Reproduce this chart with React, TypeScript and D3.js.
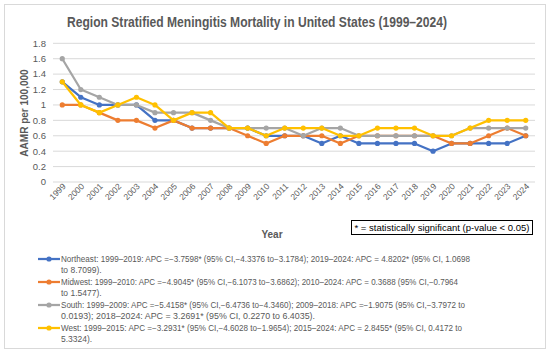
import React from 'react';
import * as d3 from 'd3';

const years = d3.range(1999, 2025).map(String);
const northeast = [1.3, 1.1, 1.0, 1.0, 1.0, 0.8, 0.8, 0.7, 0.7, 0.7, 0.7, 0.6, 0.6, 0.6, 0.5, 0.6, 0.5, 0.5, 0.5, 0.5, 0.4, 0.5, 0.5, 0.5, 0.5, 0.6];
const midwest = [1.0, 1.0, 0.9, 0.8, 0.8, 0.7, 0.8, 0.7, 0.7, 0.7, 0.6, 0.5, 0.6, 0.6, 0.6, 0.5, 0.6, 0.6, 0.6, 0.6, 0.6, 0.5, 0.5, 0.6, 0.7, 0.6];
const south = [1.6, 1.2, 1.1, 1.0, 1.0, 0.9, 0.9, 0.9, 0.8, 0.7, 0.7, 0.7, 0.7, 0.6, 0.7, 0.7, 0.6, 0.6, 0.6, 0.6, 0.6, 0.6, 0.7, 0.7, 0.7, 0.7];
const west = [1.3, 1.0, 0.9, 1.0, 1.1, 1.0, 0.8, 0.9, 0.9, 0.7, 0.7, 0.6, 0.7, 0.7, 0.7, 0.6, 0.6, 0.7, 0.7, 0.7, 0.6, 0.6, 0.7, 0.8, 0.8, 0.8];
const yTicks = [0, 0.2, 0.4, 0.6, 0.8, 1, 1.2, 1.4, 1.6, 1.8];

const seriesNames = ['Northeast', 'Midwest', 'South', 'West'];
const seriesValues = [northeast, midwest, south, west];
const colors = ['#4472C4', '#ED7D31', '#A5A5A5', '#FFC000'];

// legend text, wrapped the way the picture wraps it
const legendLines = [
  ['Northeast: 1999–2019: APC =−3.7598* (95% CI,−4.3376 to−3.1784); 2019–2024: APC = 4.8202* (95% CI, 1.0698', 'to 8.7099).'],
  ['Midwest: 1999–2010: APC =−4.9045* (95% CI,−6.1073 to−3.6862); 2010–2024: APC = 0.3688 (95% CI,−0.7964', 'to 1.5477).'],
  ['South: 1999–2009: APC =−5.4158* (95% CI,−6.4736 to−4.3460); 2009–2018: APC =−1.9075 (95% CI,−3.7972 to', '0.0193); 2018–2024: APC = 3.2691* (95% CI, 0.2270 to 6.4035).'],
  ['West: 1999–2015: APC =−3.2931* (95% CI,−4.6028 to−1.9654); 2015–2024: APC = 2.8455* (95% CI, 0.4172 to', '5.3324).'],
];
const legendWidths = [[409, 0], [397, 0], [404, 254], [401, 0]];

const width = 550;
const height = 354;
const font = '"Liberation Sans", Arial, sans-serif';
const textColor = '#595959';

export default function App() {
  const x = d3.scalePoint<string>().domain(years).range([53, 535]).padding(0.5);
  const y = d3.scaleLinear().domain([0, 1.8]).range([182, 43.3]);
  const line = d3.line<number>().x((d, i) => x(years[i])!).y(d => y(d));

  return (
    <svg width={width} height={height} style={{ position: 'absolute', left: 0, top: 0, background: '#fff' }} fontFamily={font}>
      <rect x={4.5} y={4.5} width={541} height={344} fill="#fff" stroke="#d9d9d9" />
      <text x={257} y={27} textAnchor="middle" fontSize={14} fontWeight="bold" fill={textColor} textLength={380} lengthAdjust="spacingAndGlyphs">
        Region Stratified Meningitis Mortality in United States (1999–2024)
      </text>

      {yTicks.map(t => (
        <g key={t}>
          <line x1={53} x2={535} y1={y(t)} y2={y(t)} stroke="#d9d9d9" strokeWidth={1} />
          <text x={46} y={y(t)} dy="0.35em" textAnchor="end" fontSize={9.5} fill={textColor}>{t}</text>
        </g>
      ))}

      <text transform={`translate(28,113) rotate(-90)`} textAnchor="middle" fontSize={10} fontWeight="bold" fill={textColor}>
        AAMR per 100,000
      </text>

      {years.map(yr => (
        <text key={yr} transform={`translate(${x(yr)! + 4},187) rotate(-45)`} textAnchor="end" fontSize={8.5} fill={textColor}>
          {yr}
        </text>
      ))}

      <text x={272} y={238} textAnchor="middle" fontSize={10} fontWeight="bold" fill={textColor}>Year</text>

      <rect x={351.5} y={220.5} width={181} height={14} fill="#fff" stroke="#000" />
      <text x={442} y={231} textAnchor="middle" fontSize={9.5} fill="#000" textLength={175} lengthAdjust="spacingAndGlyphs">
        * = statistically significant (p-value {'<'} 0.05)
      </text>

      {seriesValues.map((vals, s) => (
        <g key={seriesNames[s]}>
          <path d={line(vals)!} fill="none" stroke={colors[s]} strokeWidth={2.25} strokeLinejoin="round" />
          {vals.map((v, i) => (
            <circle key={i} cx={x(years[i])} cy={y(v)} r={2.6} fill={colors[s]} />
          ))}
        </g>
      ))}

      {legendLines.map((lines, s) => {
        const top = 259 + s * 23;
        return (
          <g key={seriesNames[s]}>
            <line x1={38} x2={60} y1={top} y2={top} stroke={colors[s]} strokeWidth={2.25} />
            <circle cx={49} cy={top} r={2.6} fill={colors[s]} />
            {lines.map((txt, j) => (
              <text key={j} x={61} y={top + j * 11.5} dy="0.35em" fontSize={8.5} fill={textColor}
                {...(legendWidths[s][j] ? { textLength: legendWidths[s][j], lengthAdjust: 'spacingAndGlyphs' } : {})}>
                {txt}
              </text>
            ))}
          </g>
        );
      })}
    </svg>
  );
}
